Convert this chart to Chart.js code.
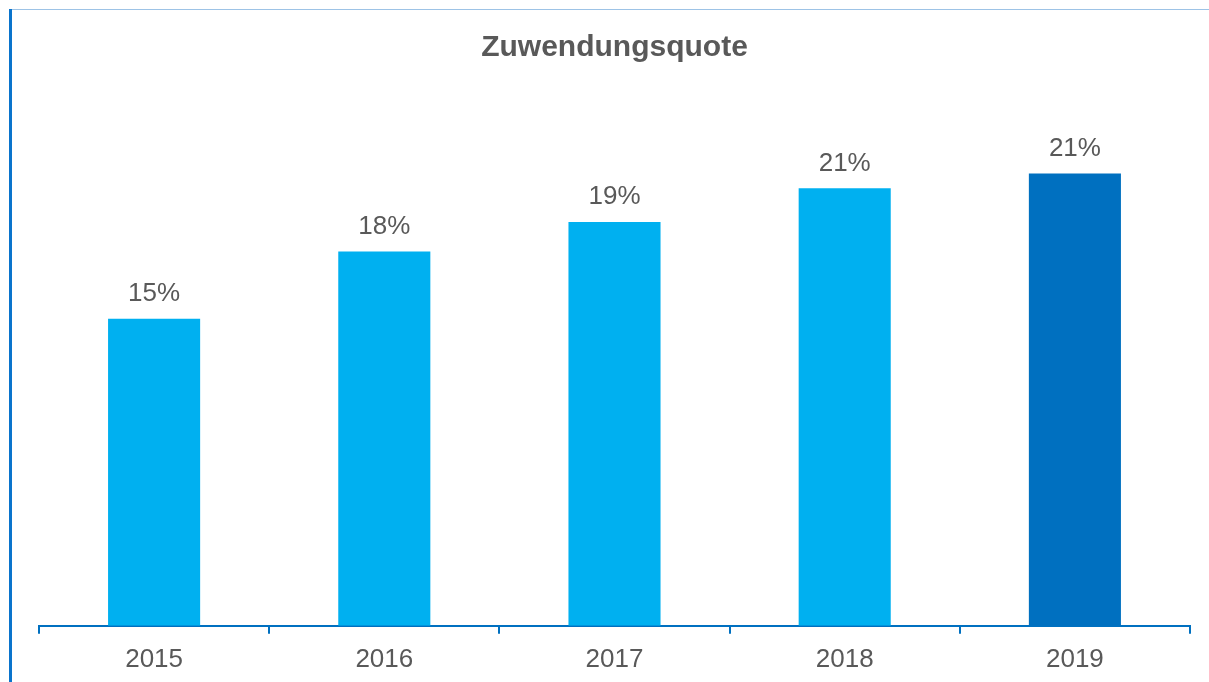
<!DOCTYPE html>
<html>
<head>
<meta charset="utf-8">
<script src="https://cdn.jsdelivr.net/npm/chart.js@4"></script>
<style>
html, body { margin:0; padding:0; background:#fff; }
#wrap { position:relative; width:1209px; height:682px; }
#canvas { position:absolute; left:0; top:0; }
#lineTop { position:absolute; left:10px; top:9px; width:1199px; height:1px; background:#9dc3e6; }
#lineLeft { position:absolute; left:9px; top:9px; width:3px; height:673px; background:#0a74cc; }
</style>
</head>
<body>
<div id="wrap">
<canvas id="canvas" width="1209" height="682"></canvas>
<div id="lineTop"></div>
<div id="lineLeft"></div>
</div>
<script>
// Daten
var YEARS = ['2015', '2016', '2017', '2018', '2019'];
var QUOTE = [14.6, 17.8, 19.2, 20.8, 21.5];
var LABELS = ['15%', '18%', '19%', '21%', '21%'];
var BAR_COLORS = ['#00b0f0', '#00b0f0', '#00b0f0', '#00b0f0', '#0070c0'];

var TEXT = '#595959';
var FONT = 'Liberation Sans, Arial, sans-serif';

// Werte über die Balken schreiben
var valueLabels = {
    id: 'valueLabels',
    afterDatasetsDraw: function(chart){
        var ctx = chart.ctx;
        var meta = chart.getDatasetMeta(0);
        ctx.save();
        ctx.fillStyle = TEXT;
        ctx.font = '26px ' + FONT;
        ctx.textAlign = 'center';
        ctx.textBaseline = 'middle';
        for(var i = 0; i < meta.data.length; i++){
            var bar = meta.data[i];
            ctx.fillText(LABELS[i], bar.x, bar.y - 25);
        }
        ctx.restore();
    }
};

var config = {
    type: 'bar',
    data: {
        labels: YEARS,
        datasets: [{
            label: 'Zuwendungsquote',
            data: QUOTE,
            backgroundColor: BAR_COLORS,
            categoryPercentage: 1,
            barPercentage: 0.4
        }]
    },
    options: {
        responsive: false,
        animation: false,
        layout: { padding: { left: 39, right: 19, top: 0, bottom: -3 } },
        plugins: {
            legend: { display: false },
            tooltip: { enabled: false },
            title: {
                display: true,
                text: 'Zuwendungsquote',
                color: TEXT,
                font: { family: FONT, size: 30, weight: 'bold' },
                padding: { top: 30, bottom: 34 }
            }
        },
        scales: {
            x: {
                offset: true,
                grid: {
                    offset: true,
                    drawOnChartArea: false,
                    drawTicks: true,
                    tickLength: 8,
                    color: '#0070c0',
                    lineWidth: 2
                },
                border: { color: '#0070c0', width: 2 },
                ticks: {
                    color: TEXT,
                    font: { family: FONT, size: 26 },
                    padding: 10
                }
            },
            y: {
                display: false,
                min: 0,
                max: 25
            }
        }
    },
    plugins: [valueLabels]
};

var ctx = document.getElementById('canvas').getContext('2d');
var chart = new Chart(ctx, config);
</script>
</body>
</html>
